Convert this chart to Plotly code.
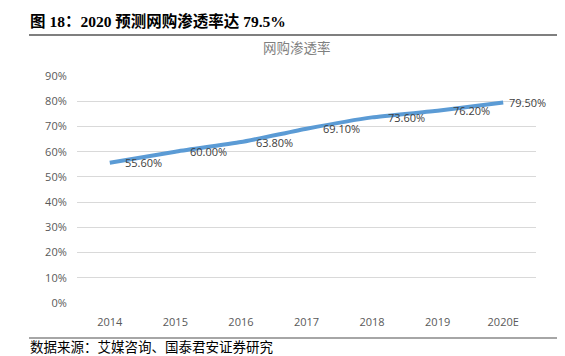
import plotly.graph_objects as go

years = ["2014", "2015", "2016", "2017", "2018", "2019", "2020E"]
penetration = [0.556, 0.600, 0.638, 0.691, 0.736, 0.762, 0.795]
labels = [f"{v*100:.2f}%" for v in penetration]

W, H = 565, 356
L, R, T, B = 77, 29, 76, 53
pw = W - L - R
ph = H - T - B

def px(x):
    return (x - L) / pw

def py(y):
    return (H - B - y) / ph

fig = go.Figure()
fig.add_trace(go.Scatter(
    x=years, y=penetration, mode="lines",
    line=dict(color="#5B9BD5", width=4, shape="spline", smoothing=0.4),
    cliponaxis=False, hoverinfo="skip", showlegend=False,
))

# data labels (Excel "right" position); category axis positions by index
label_gap = [13, 13, 13, 14, 14, 13, 4]
for i, (v, t, g) in enumerate(zip(penetration, labels, label_gap)):
    fig.add_annotation(
        x=i, y=v, text=t, showarrow=False, xanchor="left", yanchor="middle",
        xshift=g, yshift=0,
        font=dict(family="Open Sans, Noto Sans CJK SC", size=11, color="#404040"),
    )

fig.update_layout(
    width=W, height=H,
    margin=dict(l=L, r=R, t=T, b=B),
    paper_bgcolor="white", plot_bgcolor="white",
    xaxis=dict(type="category", range=[-0.5, 6.5], showgrid=False, showline=False,
               zeroline=False, ticks="outside", ticklen=9, tickcolor="rgba(0,0,0,0)",
               tickfont=dict(family="Open Sans", size=11, color="#595959")),
    yaxis=dict(range=[0, 0.9], dtick=0.1, tickformat=".0%", showgrid=True,
               gridcolor="#D9D9D9", gridwidth=1, zeroline=False, showline=False,
               ticks="outside", ticklen=7, tickcolor="rgba(0,0,0,0)",
               tickfont=dict(family="Open Sans", size=11, color="#595959")),
    font=dict(family="Noto Sans CJK SC"),
)

fig.add_annotation(
    text="<b>图 18：2020 预测网购渗透率达 79.5%</b>",
    xref="paper", yref="paper", x=px(28), y=py(21), xanchor="left", yanchor="middle",
    showarrow=False,
    font=dict(family="Liberation Serif, Noto Sans CJK SC", size=15.5, color="#000000"),
)
fig.add_annotation(
    text="网购渗透率",
    xref="paper", yref="paper", x=px(297), y=py(47), xanchor="center", yanchor="middle",
    showarrow=False,
    font=dict(family="Noto Sans CJK SC", size=13.5, color="#7F7F7F"),
)
fig.add_annotation(
    text="数据来源：艾媒咨询、国泰君安证券研究",
    xref="paper", yref="paper", x=px(28), y=py(346), xanchor="left", yanchor="middle",
    showarrow=False,
    font=dict(family="Noto Sans CJK SC", size=13.5, color="#000000"),
)
fig.add_shape(type="line", xref="paper", yref="paper",
              x0=px(29), x1=px(557), y0=py(35), y1=py(35),
              line=dict(color="#555555", width=1.5))
fig.add_shape(type="line", xref="paper", yref="paper",
              x0=px(29), x1=px(557), y0=py(338), y1=py(338),
              line=dict(color="#888888", width=1.5))

fig.write_html(
    "out.html",
    config={"displayModeBar": False},
    post_script="document.body.style.margin='0';document.body.style.padding='0';",
)
